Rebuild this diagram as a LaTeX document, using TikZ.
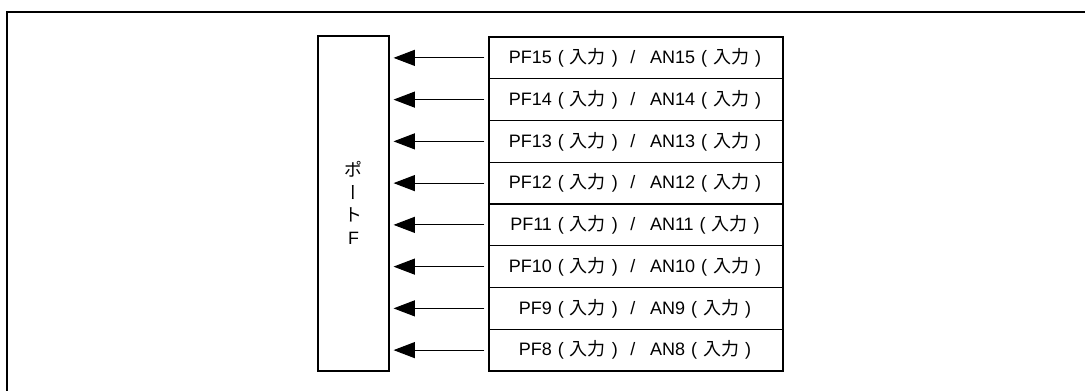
\documentclass[tikz,border=0pt]{standalone}
\usepackage{fontspec}
\setmainfont{Liberation Sans}
\newfontfamily\cjk{Noto Sans CJK JP}
\newfontfamily\cjkv[RawFeature=+vert]{Noto Sans CJK JP}
\usetikzlibrary{arrows.meta}
\tikzset{
  frame/.style={line width=1.5pt},
  portbox/.style={draw, line width=1.8pt, rectangle, inner sep=0pt},
  sigbox/.style={draw, line width=1pt, rectangle, minimum width=220.5pt, minimum height=31.3pt, inner sep=0pt, font=\fontsize{13.5pt}{16pt}\selectfont},
  arr/.style={line width=0.8pt, -{Triangle[length=16pt,width=12pt]}, shorten >=2.5pt},
}
\newcommand{\fw}[1]{\makebox[1em][c]{#1}}
\newcommand{\sig}[2]{PF#1\fw{(}{\cjk 入力}\fw{)}\fw{/}\hspace{0.45em}AN#2\fw{(}{\cjk 入力}\fw{)}}
\begin{document}
\begin{tikzpicture}[x=0.75pt,y=-0.75pt]
\useasboundingbox (0,0) rectangle (1085,391);
\draw[frame] (7,391) -- (7,12) -- (1085,12);
\node[portbox, minimum width=53.25pt, minimum height=251.25pt] (port) at (353.5,203.5) {};
\node[font=\fontsize{13.4pt}{17pt}\selectfont, align=center] (plabel) at (353.5,203)
  {{\cjk ポ}\\{\cjkv ー}\\{\cjk ト}\\F};
\foreach \n [count=\i from 0] in {15,14,13,12,11,10,9,8} {
  \node[sigbox] (r\n) at (636,{37+41.75*\i+20.875}) {\hspace{3pt}\sig{\n}{\n}};
  \draw[arr] ([xshift=-3pt]r\n.west) -- (port.east |- r\n.west);
}
\end{tikzpicture}
\end{document}
